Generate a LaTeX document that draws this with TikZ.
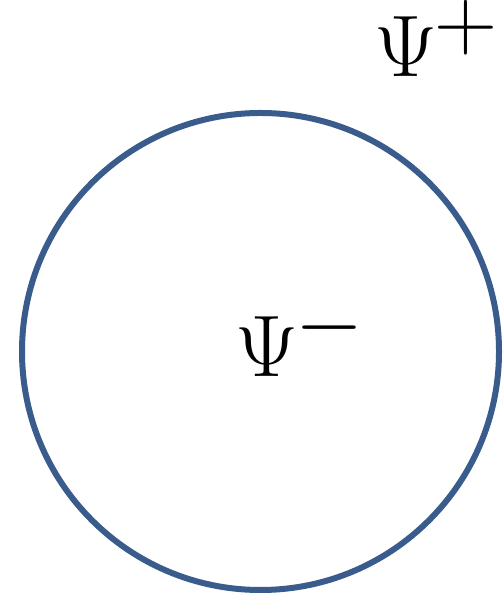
\documentclass[tikz,border=0pt]{standalone}
\usepackage{xcolor}
\usepackage{tikz}
\usetikzlibrary{positioning}
\definecolor{ringblue}{RGB}{58,92,140}
\newcommand{\supsign}[1]{\kern-0.03cm\raisebox{-0.04cm}{\fontsize{29}{33}\selectfont$#1$}}

\begin{document}
\begin{tikzpicture}[
    every node/.style={font=\fontsize{28}{32}\selectfont},
    ring/.style={circle, draw=ringblue, line width=0.06cm, minimum size=4.77cm, inner sep=0pt},
    state/.style={anchor=base west, inner sep=0pt}
]
\useasboundingbox (0,0) rectangle (5.02,5.95);

\node[ring] (sphere) at (2.605,2.435) {};

\node[state] (psiminus) at (2.35,2.18) {$\Psi^{\supsign{-}}$};
\node[state] (psiplus) at (3.74,5.18) {$\Psi^{\supsign{+}}$};

\end{tikzpicture}
\end{document}
